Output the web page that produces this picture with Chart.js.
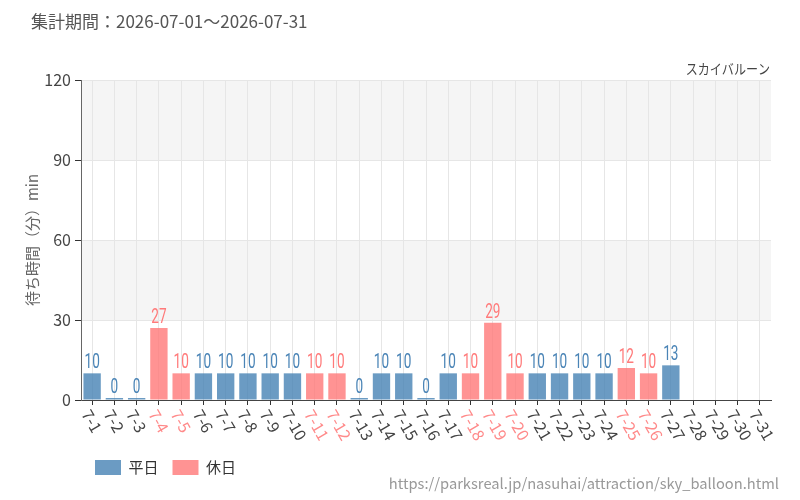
<!DOCTYPE html>
<html>
<head>
<meta charset="utf-8">
<script src="https://cdn.jsdelivr.net/npm/chart.js@4.4.1/dist/chart.umd.min.js"></script>
<style>
  html, body { margin: 0; padding: 0; background: #fff; }
</style>
</head>
<body>
<canvas id="waitChart" width="800" height="500"></canvas>
<script>
/* データ */
const dayLabels = ['7-1','7-2','7-3','7-4','7-5','7-6','7-7','7-8','7-9','7-10',
  '7-11','7-12','7-13','7-14','7-15','7-16','7-17','7-18','7-19','7-20',
  '7-21','7-22','7-23','7-24','7-25','7-26','7-27','7-28','7-29','7-30','7-31'];
const weekdayValues = [10, 0, 0, null, null, 10, 10, 10, 10, 10,
  null, null, 0, 10, 10, 0, 10, null, null, null,
  10, 10, 10, 10, null, null, 13, null, null, null, null];
const holidayValues = [null, null, null, 27, 10, null, null, null, null, null,
  10, 10, null, null, null, null, null, 10, 29, 10,
  null, null, null, null, 12, 10, null, null, null, null, null];
const holidayLabels = ['7-4','7-5','7-11','7-12','7-18','7-19','7-20','7-25','7-26'];
const yTickValues = [0, 30, 60, 90, 120];
const shadedBands = [[30, 60], [90, 120]];

const titleText = '集計期間：2026-07-01～2026-07-31';
const attractionName = 'スカイバルーン';
const sourceUrl = 'https://parksreal.jp/nasuhai/attraction/sky_balloon.html';

const FONT = '"Noto Sans CJK JP", "Noto Sans", sans-serif';
const blueFill = 'rgba(70,130,180,0.8)';
const pinkFill = 'rgba(255,120,120,0.8)';
const blueText = '#4a84b6';
const pinkText = '#ff7a7a';

/* 背景の帯 */
const bandPlugin = {
  id: 'bands',
  beforeDraw(chart) {
    const { ctx, chartArea, scales: { y } } = chart;
    ctx.save();
    ctx.fillStyle = '#f5f5f5';
    shadedBands.forEach(([lo, hi]) => {
      const top = y.getPixelForValue(hi);
      const bottom = y.getPixelForValue(lo);
      ctx.fillRect(chartArea.left, top, chartArea.width, bottom - top);
    });
    ctx.restore();
  }
};

/* 棒の上の数値 */
const valueLabelPlugin = {
  id: 'valueLabels',
  afterDatasetsDraw(chart) {
    const ctx = chart.ctx;
    chart.data.datasets.forEach((ds, i) => {
      const meta = chart.getDatasetMeta(i);
      meta.data.forEach((bar, j) => {
        const v = ds.data[j];
        if (v === null || v === undefined) return;
        ctx.save();
        ctx.translate(bar.x, bar.y);
        ctx.scale(0.68, 1);
        ctx.font = '20px Roboto, sans-serif';
        ctx.fillStyle = ds.labelColor;
        ctx.textAlign = 'center';
        ctx.textBaseline = 'bottom';
        ctx.fillText(String(v), 0, 0);
        ctx.restore();
      });
    });
  }
};

/* x軸ラベル（右下がり）とテキスト */
const textPlugin = {
  id: 'texts',
  afterDraw(chart) {
    const { ctx, chartArea, scales: { x } } = chart;
    ctx.save();
    ctx.font = '16px ' + FONT;
    ctx.textAlign = 'left';
    ctx.textBaseline = 'middle';
    dayLabels.forEach((lbl, i) => {
      const px = x.getPixelForTick(i);
      ctx.save();
      ctx.translate(px - 6, chartArea.bottom + 11);
      ctx.rotate(Math.PI / 3);
      ctx.fillStyle = holidayLabels.includes(lbl) ? '#ff8a8a' : '#444';
      ctx.fillText(lbl, 0, 0);
      ctx.restore();
    });

    ctx.fillStyle = '#555';
    ctx.font = '17px ' + FONT;
    ctx.textAlign = 'left';
    ctx.fillText(titleText, 31, 22);

    ctx.save();
    ctx.translate(770, 69);
    ctx.scale(0.86, 1);
    ctx.fillStyle = '#444';
    ctx.font = '14px ' + FONT;
    ctx.textAlign = 'right';
    ctx.fillText(attractionName, 0, 0);
    ctx.restore();

    ctx.fillStyle = '#999';
    ctx.font = '14.7px ' + FONT;
    ctx.textAlign = 'right';
    ctx.fillText(sourceUrl, 779, 483);
    ctx.restore();
  }
};

new Chart(document.getElementById('waitChart'), {
  type: 'bar',
  data: {
    labels: dayLabels,
    datasets: [
      { label: '平日', data: weekdayValues, backgroundColor: blueFill, labelColor: blueText },
      { label: '休日', data: holidayValues, backgroundColor: pinkFill, labelColor: pinkText }
    ]
  },
  options: {
    responsive: false,
    animation: false,
    layout: { padding: { top: 80, right: 29, bottom: 15, left: 19 } },
    datasets: {
      bar: { grouped: false, barPercentage: 0.78, categoryPercentage: 1, minBarLength: 2 }
    },
    scales: {
      x: {
        grid: { offset: false, color: '#e6e6e6', tickColor: '#333', tickLength: 5 },
        border: { color: '#444' },
        ticks: { display: false },
        afterFit(scale) { scale.height = 46; }
      },
      y: {
        min: 0,
        max: 120,
        afterBuildTicks(scale) { scale.ticks = yTickValues.map(v => ({ value: v })); },
        grid: { color: '#e6e6e6', tickColor: '#333', tickLength: 6 },
        border: { color: '#666' },
        ticks: { font: { family: FONT, size: 16 }, color: '#444', padding: 4 },
        title: { display: true, text: '待ち時間（分）min', font: { family: FONT, size: 15 }, color: '#666' },
        afterFit(scale) { scale.width = 62; }
      }
    },
    plugins: {
      legend: {
        position: 'bottom',
        align: 'start',
        fullSize: false,
        labels: { boxWidth: 26, boxHeight: 15, padding: 14, color: '#333', font: { family: FONT, size: 15 } }
      },
      tooltip: { enabled: false }
    }
  },
  plugins: [bandPlugin, valueLabelPlugin, textPlugin]
});
</script>
</body>
</html>
